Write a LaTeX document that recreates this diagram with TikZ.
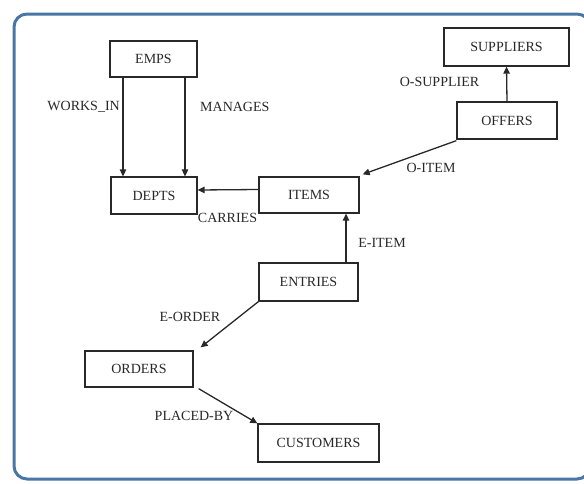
\documentclass[tikz,border=0pt]{standalone}
\usepackage{fontspec}
\setmainfont{Liberation Serif}
\usetikzlibrary{arrows.meta}
\definecolor{framecol}{RGB}{72,118,165}
\definecolor{inkcol}{RGB}{40,40,40}
\tikzset{
  ent/.style={draw=inkcol, line width=1.3pt, rectangle, inner sep=0pt, text=inkcol,
    font=\fontsize{14}{16}\selectfont},
  rel/.style={draw=inkcol, line width=1.3pt, -{Triangle[length=7pt,width=6.5pt]}},
  lbl/.style={text=inkcol, inner sep=0pt, font=\fontsize{14}{16}\selectfont}
}
\begin{document}
\begin{tikzpicture}[x=1pt,y=-1pt]
\useasboundingbox (0,0) rectangle (584,483);
\begin{scope}
\clip (0,0) rectangle (584,483);
\draw[framecol, line width=3pt, rounded corners=13pt] (14,14) rectangle (590,479);
\end{scope}
\node[ent, minimum width=87pt, minimum height=36pt] (emps) at (153.5,59) {EMPS};
\node[ent, minimum width=86pt, minimum height=37pt] (depts) at (154,195.5) {DEPTS};
\node[ent, minimum width=100pt, minimum height=36pt] (items) at (309,195) {ITEMS};
\node[ent, minimum width=125pt, minimum height=38pt] (suppliers) at (506.5,47) {SUPPLIERS};
\node[ent, minimum width=100pt, minimum height=37pt] (offers) at (507,120.5) {OFFERS};
\node[ent, minimum width=99pt, minimum height=38pt] (entries) at (308.5,282) {ENTRIES};
\node[ent, minimum width=108pt, minimum height=36pt] (orders) at (139,369) {ORDERS};
\node[ent, minimum width=121pt, minimum height=38pt] (customers) at (318.5,443) {CUSTOMERS};

\draw[rel] ([xshift=-30.5pt]emps.south) -- ([xshift=-31pt]depts.north);
\draw[rel] ([xshift=31.5pt]emps.south) -- ([xshift=31pt]depts.north);
\draw[rel] ([yshift=5.5pt]items.west) -- ([yshift=5.5pt]depts.east);
\draw[rel] (offers.north) -- (suppliers.south);
\draw[rel] ([yshift=-1pt]offers.south west) -- ([xshift=3pt,yshift=2pt]items.north east);
\draw[rel] ([xshift=37.5pt]entries.north) -- ([xshift=37pt]items.south);
\draw[rel] (entries.south west) -- ([xshift=7pt,yshift=3pt]orders.north east);
\draw[rel] ([xshift=5pt,yshift=-1pt]orders.south east) -- (customers.north west);

\node[lbl, anchor=east] (lworks) at (120,107) {WORKS\_IN};
\node[lbl, anchor=west] (lman) at (200,107) {MANAGES};
\node[lbl] (lcar) at (227.5,218) {CARRIES};
\node[lbl] (losup) at (439.5,82) {O-SUPPLIER};
\node[lbl] (loitem) at (431,168) {O-ITEM};
\node[lbl] (leitem) at (382,243) {E-ITEM};
\node[lbl] (leord) at (190,317) {E-ORDER};
\node[lbl] (lplac) at (194,416) {PLACED-BY};
\end{tikzpicture}
\end{document}
